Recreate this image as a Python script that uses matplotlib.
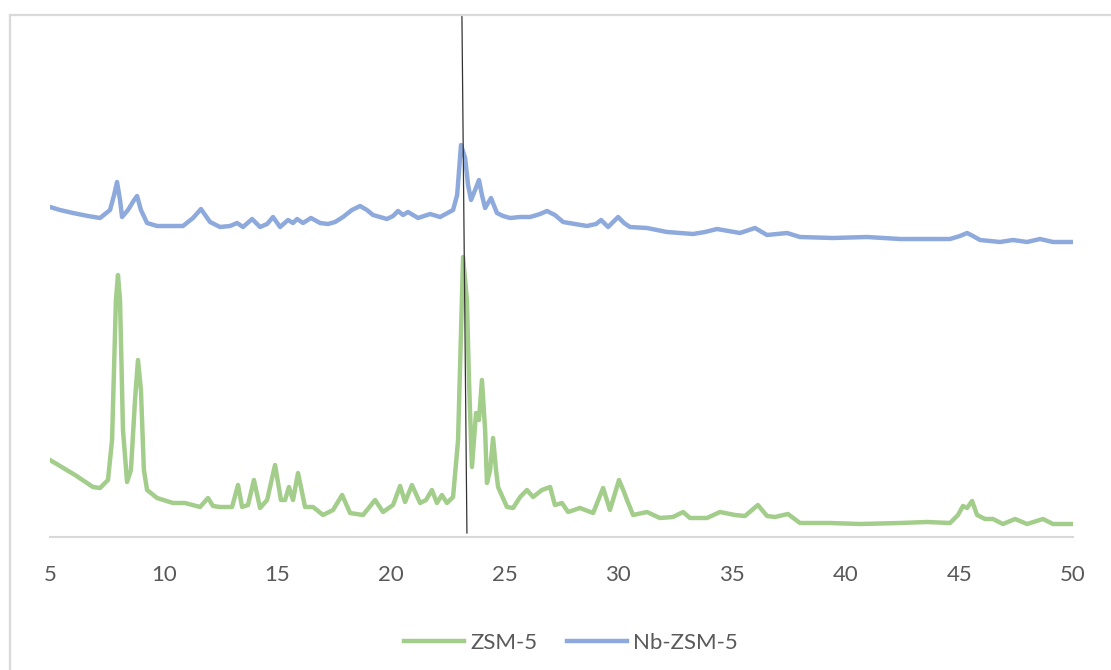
import numpy as np
import matplotlib

matplotlib.use("Agg")
import matplotlib.pyplot as plt
from matplotlib.lines import Line2D

plt.rcParams["font.family"] = ["Lato", "DejaVu Sans"]

# 2-theta (deg) and intensity (a.u.)
zsm5_x = [
    5.00, 5.44, 6.10, 6.89, 7.20, 7.55, 7.73, 7.90, 7.99, 8.08, 8.21, 8.39, 8.56,
    8.74, 8.87, 9.00, 9.13, 9.27, 9.71, 10.41, 10.94, 11.60, 11.95, 12.17, 12.48,
    13.01, 13.27, 13.45, 13.71, 13.97, 14.24, 14.55, 14.90, 15.16, 15.34, 15.51,
    15.69, 15.91, 16.22, 16.57, 17.01, 17.45, 17.85, 18.20, 18.77, 19.30, 19.65,
    20.09, 20.40, 20.62, 20.92, 21.28, 21.54, 21.80, 22.02, 22.24, 22.46, 22.73,
    22.95, 23.17, 23.34, 23.43, 23.56, 23.74, 23.87, 24.00, 24.14, 24.22, 24.36,
    24.49, 24.62, 24.71, 25.10, 25.37, 25.68, 25.98, 26.25, 26.64, 27.00, 27.21,
    27.52, 27.79, 28.31, 28.89, 29.33, 29.63, 30.03, 30.25, 30.38, 30.65, 31.26,
    31.83, 32.40, 32.85, 33.15, 33.90, 34.47, 35.13, 35.57, 36.14, 36.54, 36.89,
    37.46, 37.99, 39.31, 40.63, 42.39, 43.58, 44.59, 44.94, 45.16, 45.34, 45.56,
    45.78, 46.13, 46.48, 46.92, 47.45, 47.98, 48.68, 49.12, 50.00,
]
zsm5_y = [
    77, 71, 62, 50, 49, 57, 97, 237, 262, 237, 107, 55, 67,
    137, 177, 147, 67, 47, 39, 34, 34, 30, 39, 31, 30,
    30, 52, 30, 32, 57, 29, 37, 72, 37, 37, 50,
    37, 64, 30, 30, 22, 27, 42, 24, 22, 37, 25,
    32, 51, 35, 52, 34, 37, 47, 34, 42, 34, 40,
    97, 280, 237, 157, 70, 124, 117, 157, 107, 54, 67,
    99, 67, 50, 30, 29, 40, 47, 40, 47, 50, 32,
    34, 25, 29, 24, 49, 27, 57, 45, 37, 22, 25,
    19, 20, 25, 19, 19, 25, 22, 21, 32, 21, 20,
    23, 14, 14, 13, 14, 15, 14, 22, 31, 29, 36,
    22, 18, 18, 13, 18, 13, 18, 13, 13,
]

nb_zsm5_x = [
    5.00, 5.44, 6.01, 6.67, 7.20, 7.64, 7.82, 7.95, 8.08, 8.17, 8.43, 8.70, 8.83,
    9.00, 9.27, 9.71, 10.28, 10.85, 11.29, 11.64, 12.04, 12.48, 12.92, 13.23,
    13.49, 13.89, 14.24, 14.55, 14.81, 15.12, 15.47, 15.69, 15.87, 16.13, 16.48,
    16.88, 17.23, 17.54, 17.89, 18.28, 18.64, 18.94, 19.21, 19.82, 20.09, 20.31,
    20.53, 20.75, 21.19, 21.72, 22.16, 22.73, 22.91, 23.08, 23.26, 23.39, 23.52,
    23.70, 23.87, 24.00, 24.14, 24.40, 24.66, 24.93, 25.24, 25.68, 26.12, 26.56,
    26.86, 27.21, 27.57, 28.09, 28.62, 29.02, 29.24, 29.55, 29.77, 29.99, 30.25,
    30.51, 31.26, 32.14, 33.29, 33.81, 34.34, 35.35, 36.01, 36.54, 37.42, 37.99,
    39.44, 40.94, 42.39, 44.59, 45.03, 45.34, 45.60, 45.91, 46.79, 47.36, 47.98,
    48.55, 49.12, 50.00,
]
nb_zsm5_y = [
    330, 327, 324, 321, 319, 327, 342, 355, 337, 320, 327, 337, 341,
    327, 314, 311, 311, 311, 319, 328, 315, 310, 311, 314,
    310, 318, 310, 313, 320, 310, 317, 314, 318, 314, 319,
    314, 313, 315, 320, 327, 331, 327, 322, 318, 321, 326,
    322, 325, 319, 323, 320, 327, 342, 392, 379, 352, 337,
    347, 357, 342, 329, 339, 324, 321, 319, 320, 320, 323,
    326, 322, 315, 313, 311, 313, 317, 310, 315, 320, 314,
    310, 309, 305, 303, 305, 308, 304, 309, 302, 304, 300,
    299, 300, 298, 298, 301, 304, 301, 297, 295, 297, 295,
    298, 295, 295,
]

x_ticks = [5, 10, 15, 20, 25, 30, 35, 40, 45, 50]
marker_x = [23.12, 23.34]  # slightly tilted reference line at the main peak

GREEN = "#a3cd8b"
BLUE = "#8eaadc"
TEXT = "#595959"
GRID = "#d9d9d9"

fig = plt.figure(figsize=(11.11, 6.70), dpi=100)
ax = fig.add_axes([50 / 1111, 1 - 537 / 670, (1073 - 50) / 1111, (537 - 15) / 670])

ax.plot(zsm5_x, zsm5_y, color=GREEN, lw=3.2, label="ZSM-5", solid_joinstyle="round")
ax.plot(nb_zsm5_x, nb_zsm5_y, color=BLUE, lw=3.2, label="Nb-ZSM-5", solid_joinstyle="round")

ax.set_xlim(5, 50)
ax.set_ylim(0, 522)
ax.plot(marker_x, [522, 4], color="#333333", lw=0.9, clip_on=False)

for s in ["top", "left", "right"]:
    ax.spines[s].set_visible(False)
ax.spines["bottom"].set_color(GRID)
ax.spines["bottom"].set_linewidth(1.5)
ax.set_yticks([])
ax.set_xticks(x_ticks)
ax.set_xticklabels([str(t) for t in x_ticks])
ax.tick_params(axis="x", length=0, pad=20, labelsize=16, labelcolor=TEXT)

# chart-area border (left and top edges visible)
fig.add_artist(Line2D([10 / 1111, 10 / 1111], [0, 1 - 15 / 670], color=GRID, lw=1.6,
                      transform=fig.transFigure))
fig.add_artist(Line2D([10 / 1111, 1], [1 - 15 / 670, 1 - 15 / 670], color=GRID, lw=1.6,
                      transform=fig.transFigure))

fig.legend(loc="center", bbox_to_anchor=(571 / 1111, 1 - 643 / 670), ncol=2,
           frameon=False, fontsize=16, labelcolor=TEXT, handlelength=2.7,
           handletextpad=0.3, columnspacing=1.3)

fig.savefig("out.png", dpi=100, facecolor="white")
